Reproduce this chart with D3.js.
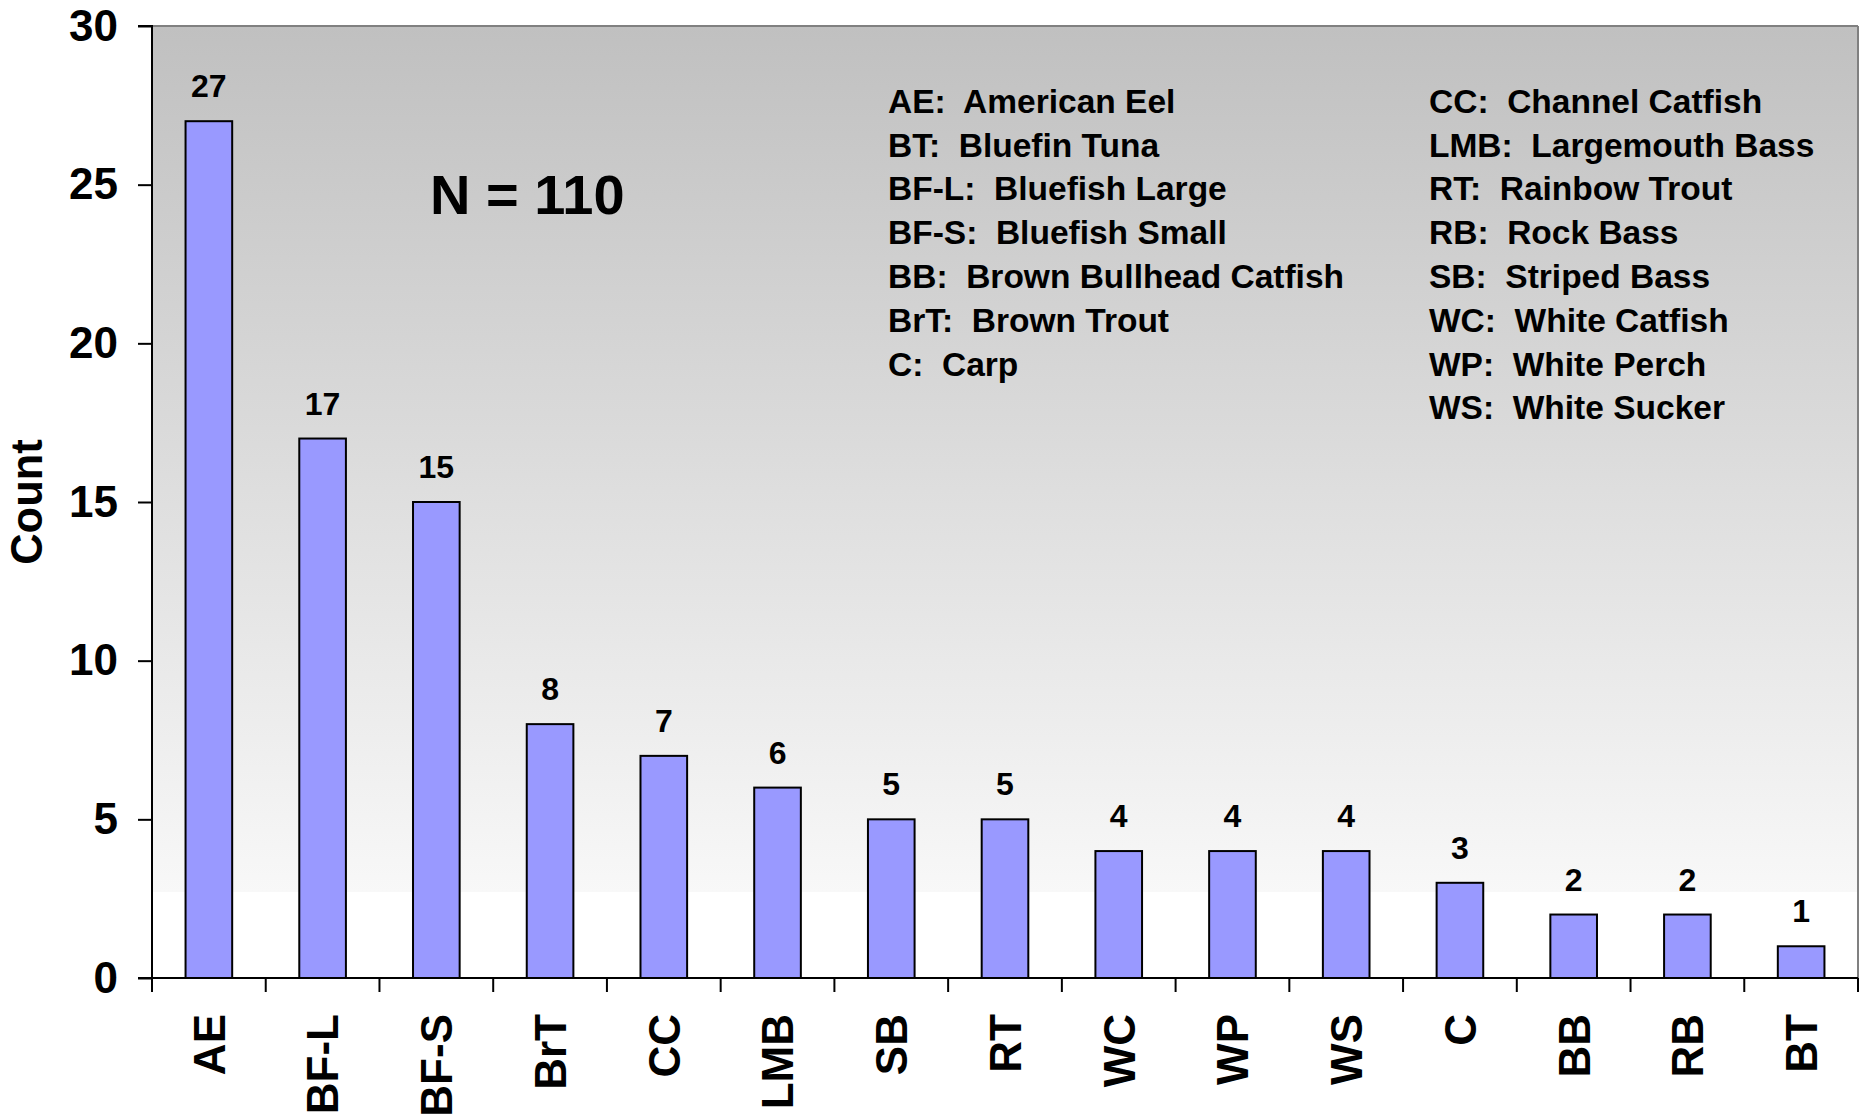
<!DOCTYPE html>
<html>
<head>
<meta charset="utf-8">
<script src="https://cdn.jsdelivr.net/npm/d3@7"></script>
<style>
  html, body { margin: 0; padding: 0; background: #fff; }
  svg { display: block; }
  text { font-family: "Liberation Sans", Arial, sans-serif; font-weight: bold; fill: #000; }
  .pre { white-space: pre; }
</style>
</head>
<body>
<svg id="chart" width="1859" height="1117"></svg>
<script>
const categories = ["AE", "BF-L", "BF-S", "BrT", "CC", "LMB", "SB", "RT", "WC", "WP", "WS", "C", "BB", "RB", "BT"];
const counts = [27, 17, 15, 8, 7, 6, 5, 5, 4, 4, 4, 3, 2, 2, 1];
const yTicks = [0, 5, 10, 15, 20, 25, 30];
const legendLeft = ["AE:  American Eel", "BT:  Bluefin Tuna", "BF-L:  Bluefish Large", "BF-S:  Bluefish Small", "BB:  Brown Bullhead Catfish", "BrT:  Brown Trout", "C:  Carp"];
const legendRight = ["CC:  Channel Catfish", "LMB:  Largemouth Bass", "RT:  Rainbow Trout", "RB:  Rock Bass", "SB:  Striped Bass", "WC:  White Catfish", "WP:  White Perch", "WS:  White Sucker"];
const totalLabel = "N = 110";
const yTitle = "Count";

const svg = d3.select("#chart");
const plot = { left: 152, right: 1858, top: 26, bottom: 978 };

const x = d3.scaleBand().domain(categories).range([plot.left, plot.right]).padding(0);
const y = d3.scaleLinear().domain([0, 30]).range([plot.bottom, plot.top]);

// background gradient
const defs = svg.append("defs");
const grad = defs.append("linearGradient").attr("id", "bg").attr("x1", 0).attr("y1", 0).attr("x2", 0).attr("y2", 1);
grad.append("stop").attr("offset", "0%").attr("stop-color", "#c0c0c0");
grad.append("stop").attr("offset", "91%").attr("stop-color", "#f8f8f8");
grad.append("stop").attr("offset", "91%").attr("stop-color", "#ffffff");
grad.append("stop").attr("offset", "100%").attr("stop-color", "#ffffff");

svg.append("rect")
  .attr("x", plot.left).attr("y", plot.top)
  .attr("width", plot.right - plot.left).attr("height", plot.bottom - plot.top)
  .attr("fill", "url(#bg)");

// plot border top/right
svg.append("line").attr("x1", plot.left).attr("x2", plot.right).attr("y1", plot.top).attr("y2", plot.top)
  .attr("stroke", "#808080").attr("stroke-width", 2);
svg.append("line").attr("x1", plot.right).attr("x2", plot.right).attr("y1", plot.top).attr("y2", plot.bottom)
  .attr("stroke", "#808080").attr("stroke-width", 2);

// bars
const barW = x.bandwidth() * 0.41;
svg.append("g").selectAll("rect").data(categories).join("rect")
  .attr("x", (d) => x(d) + (x.bandwidth() - barW) / 2)
  .attr("y", (d, i) => y(counts[i]))
  .attr("width", barW)
  .attr("height", (d, i) => y(0) - y(counts[i]))
  .attr("fill", "#9999ff")
  .attr("stroke", "#000")
  .attr("stroke-width", 2);

// value labels
svg.append("g").selectAll("text").data(categories).join("text")
  .attr("x", (d) => x(d) + x.bandwidth() / 2)
  .attr("y", (d, i) => y(counts[i]) - 24)
  .attr("text-anchor", "middle")
  .attr("font-size", 32)
  .text((d, i) => counts[i]);

// y axis
const yAxis = svg.append("g").attr("transform", `translate(${plot.left},0)`)
  .call(d3.axisLeft(y).tickValues(yTicks).tickSize(14).tickPadding(20).tickFormat(d3.format("d")));
yAxis.selectAll("text").attr("font-size", 44).style("font-family", "Liberation Sans, Arial, sans-serif").style("font-weight", "bold").attr("fill", "#000");
yAxis.selectAll("line").attr("stroke", "#000").attr("stroke-width", 2);
yAxis.select(".domain").attr("stroke", "#000").attr("stroke-width", 2).attr("d", `M-14,${plot.top}H0V${plot.bottom}H-14`);

// x axis baseline and ticks at band boundaries
svg.append("line").attr("x1", plot.left).attr("x2", plot.right).attr("y1", plot.bottom).attr("y2", plot.bottom)
  .attr("stroke", "#000").attr("stroke-width", 2);
const boundaries = categories.map((d) => x(d)).concat([plot.right]);
svg.append("g").selectAll("line").data(boundaries).join("line")
  .attr("x1", (d) => d).attr("x2", (d) => d)
  .attr("y1", plot.bottom).attr("y2", plot.bottom + 14)
  .attr("stroke", "#000").attr("stroke-width", 2);

// category labels
svg.append("g").selectAll("text").data(categories).join("text")
  .attr("transform", (d) => `translate(${x(d) + x.bandwidth() / 2},1014) rotate(-90)`)
  .attr("text-anchor", "end")
  .attr("dy", "0.36em")
  .attr("font-size", 44)
  .text((d) => d);

// y title
svg.append("text")
  .attr("transform", `translate(42,502) rotate(-90)`)
  .attr("text-anchor", "middle")
  .attr("font-size", 43.5)
  .text(yTitle);

// N label
svg.append("text").attr("x", 430).attr("y", 214).attr("font-size", 56).text(totalLabel);

// legends
svg.append("g").selectAll("text").data(legendLeft).join("text")
  .attr("class", "pre")
  .attr("x", 888).attr("y", (d, i) => 112.7 + i * 43.8)
  .attr("font-size", 33.5)
  .text((d) => d);
svg.append("g").selectAll("text").data(legendRight).join("text")
  .attr("class", "pre")
  .attr("x", 1429).attr("y", (d, i) => 112.7 + i * 43.8)
  .attr("font-size", 33.5)
  .text((d) => d);
</script>
</body>
</html>
